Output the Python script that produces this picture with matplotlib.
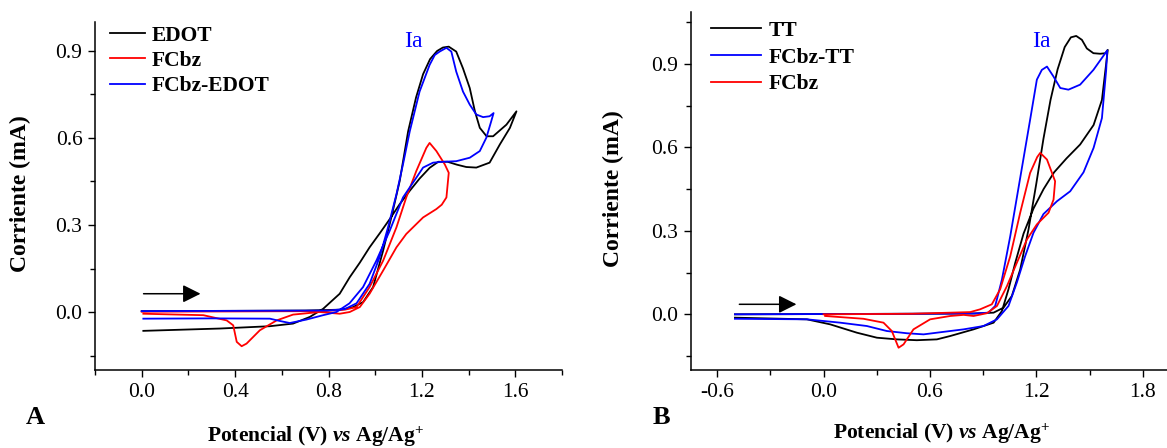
import matplotlib
matplotlib.use("Agg")
import matplotlib.pyplot as plt
from matplotlib.ticker import MultipleLocator, FormatStrFormatter

plt.rcParams['font.family'] = 'Liberation Serif'
plt.rcParams['mathtext.fontset'] = 'custom'
plt.rcParams['mathtext.rm'] = 'Liberation Serif:bold'
plt.rcParams['mathtext.bf'] = 'Liberation Serif:bold'
plt.rcParams['mathtext.it'] = 'Liberation Serif:italic:bold'
plt.rcParams['axes.unicode_minus'] = False

# ---- panel A data (V vs Ag/Ag+, mA) ----
edot_v = [0.0, 0.4, 0.7, 0.85, 0.9, 0.948, 0.991, 1.034, 1.069, 1.105, 1.141, 1.175, 1.205,
          1.235, 1.265, 1.29, 1.315, 1.347, 1.376, 1.405, 1.427, 1.448, 1.477, 1.505, 1.562, 1.605,
          1.577, 1.534, 1.49, 1.433, 1.39, 1.35, 1.31, 1.27, 1.233, 1.19, 1.148, 1.105, 1.062,
          1.02, 0.976, 0.934, 0.891, 0.848, 0.777, 0.72, 0.648, 0.549, 0.335, 0.007]
edot_i = [0.003, 0.004, 0.005, 0.008, 0.015, 0.034, 0.086, 0.212, 0.326, 0.452, 0.623, 0.74, 0.82,
          0.872, 0.9, 0.912, 0.915, 0.898, 0.84, 0.772, 0.692, 0.635, 0.606, 0.606, 0.646, 0.692,
          0.635, 0.578, 0.515, 0.498, 0.5, 0.508, 0.518, 0.518, 0.497, 0.46, 0.418, 0.372, 0.32,
          0.272, 0.223, 0.17, 0.12, 0.063, 0.011, -0.017, -0.04, -0.049, -0.057, -0.065]

fcbz_a_v = [0.0, 0.4, 0.75, 0.82, 0.87, 0.92, 0.976, 1.034, 1.091, 1.133, 1.176, 1.219, 1.233,
            1.262, 1.298, 1.315,
            1.305, 1.285, 1.262, 1.205, 1.133, 1.091, 1.034, 0.976, 0.934, 0.891, 0.848, 0.762,
            0.648, 0.578, 0.506, 0.449, 0.428, 0.407, 0.392, 0.364, 0.264, 0.007]
fcbz_a_i = [0.001, 0.002, 0.003, 0.005, 0.008, 0.017, 0.086, 0.177, 0.292, 0.395, 0.486, 0.566, 0.583,
            0.555, 0.509, 0.48,
            0.395, 0.37, 0.355, 0.326, 0.269, 0.223, 0.143, 0.063, 0.017, 0.0, -0.006, 0.0,
            -0.009, -0.029, -0.063, -0.109, -0.118, -0.103, -0.046, -0.029, -0.011, -0.006]

fcbzedot_v = [0.0, 0.4, 0.8, 0.87, 0.92, 0.976, 1.019, 1.055, 1.091, 1.119, 1.148, 1.19, 1.233,
              1.255, 1.276, 1.305, 1.326, 1.347, 1.376, 1.405, 1.433, 1.462, 1.49, 1.507,
              1.497, 1.476, 1.448, 1.405, 1.347, 1.29, 1.248, 1.205, 1.176, 1.119, 1.062, 1.005,
              0.948, 0.89, 0.834, 0.777, 0.706, 0.634, 0.592, 0.549, 0.3, 0.007]
fcbzedot_i = [0.003, 0.004, 0.005, 0.01, 0.03, 0.097, 0.189, 0.292, 0.406, 0.509, 0.623, 0.76, 0.852,
              0.886, 0.898, 0.911, 0.898, 0.829, 0.76, 0.715, 0.681, 0.672, 0.675, 0.686,
              0.658, 0.601, 0.555, 0.532, 0.52, 0.518, 0.515, 0.498, 0.463, 0.395, 0.28, 0.177,
              0.086, 0.03, 0.0, -0.011, -0.026, -0.038, -0.031, -0.023, -0.022, -0.023]

# ---- panel B data ----
tt_v = [-0.5, 0.0, 0.5, 0.85, 0.959, 1.015, 1.062, 1.109, 1.156, 1.2, 1.24, 1.28, 1.32,
        1.36, 1.395, 1.425, 1.457, 1.485, 1.522, 1.56, 1.59, 1.603,
        1.57, 1.523, 1.447, 1.37, 1.3, 1.241, 1.184, 1.128, 1.081, 1.043, 1.006, 0.959, 0.846,
        0.714, 0.639, 0.526, 0.414, 0.301, 0.188, 0.037, -0.094, -0.5]
tt_i = [0.0, 0.001, 0.002, 0.003, 0.006, 0.024, 0.066, 0.161, 0.305, 0.47, 0.63, 0.77, 0.88,
        0.96, 0.995, 1.0, 0.986, 0.955, 0.938, 0.936, 0.938, 0.95,
        0.77, 0.68, 0.61, 0.56, 0.51, 0.45, 0.38, 0.29, 0.185, 0.09, 0.012, -0.03, -0.054,
        -0.078, -0.09, -0.093, -0.09, -0.084, -0.066, -0.036, -0.018, -0.012]

fcbztt_v = [-0.5, 0.0, 0.5, 0.85, 0.93, 0.968, 1.006, 1.053, 1.109, 1.165, 1.203, 1.231, 1.26,
            1.297, 1.335, 1.381, 1.447, 1.522, 1.6,
            1.594, 1.57, 1.523, 1.466, 1.391, 1.316, 1.24, 1.184, 1.137, 1.09, 1.043, 0.978,
            0.902, 0.79, 0.714, 0.564, 0.47, 0.357, 0.244, 0.094, -0.094, -0.5]
fcbztt_i = [0.0, 0.001, 0.002, 0.003, 0.006, 0.03, 0.125, 0.281, 0.49, 0.699, 0.843, 0.878, 0.89,
            0.854, 0.813, 0.807, 0.825, 0.878, 0.948,
            0.878, 0.705, 0.598, 0.51, 0.442, 0.406, 0.36, 0.293, 0.209, 0.114, 0.03, -0.018,
            -0.042, -0.054, -0.06, -0.072, -0.068, -0.06, -0.042, -0.03, -0.018, -0.016]

fcbz_b_v = [0.0, 0.5, 0.827, 0.883, 0.949, 0.996, 1.053, 1.109, 1.165, 1.205, 1.222,
            1.26, 1.306, 1.297, 1.269, 1.203, 1.147, 1.09, 1.034, 0.978, 0.921, 0.846, 0.79,
            0.714, 0.601, 0.507, 0.451, 0.423, 0.385, 0.338, 0.225, 0.009]
fcbz_b_i = [0.0, 0.002, 0.008, 0.018, 0.036, 0.09, 0.209, 0.365, 0.508, 0.565, 0.58,
            0.556, 0.478, 0.412, 0.365, 0.323, 0.269, 0.185, 0.101, 0.03, 0.004, -0.006, -0.002,
            -0.006, -0.018, -0.054, -0.108, -0.12, -0.06, -0.03, -0.016, -0.006]

FS = 15.5
W, H = 1167, 448
fig = plt.figure(figsize=(W / 100, H / 100), dpi=100)

axA = fig.add_axes([95 / W, 78 / H, 467 / W, 348 / H])
axB = fig.add_axes([690.6 / W, 78 / H, 478.7 / W, 358 / H])


def style(ax, xlim, ylim, xmaj, ymaj):
    ax.set_xlim(*xlim)
    ax.set_ylim(*ylim)
    for s in ['top', 'right']:
        ax.spines[s].set_visible(False)
    for s in ['left', 'bottom']:
        ax.spines[s].set_linewidth(1.1)
    ax.xaxis.set_major_locator(MultipleLocator(xmaj))
    ax.xaxis.set_minor_locator(MultipleLocator(xmaj / 2))
    ax.yaxis.set_major_locator(MultipleLocator(ymaj))
    ax.yaxis.set_minor_locator(MultipleLocator(ymaj / 2))
    ax.xaxis.set_major_formatter(FormatStrFormatter('%.1f'))
    ax.yaxis.set_major_formatter(FormatStrFormatter('%.1f'))
    ax.tick_params(which='major', direction='out', length=5, width=1.0, labelsize=FS, pad=4)
    ax.tick_params(which='minor', direction='out', length=3.5, width=1.0)


lw = 1.3
axA.plot(edot_v, edot_i, color='black', lw=lw, label='EDOT')
axA.plot(fcbz_a_v, fcbz_a_i, color='#ff0000', lw=lw, label='FCbz')
axA.plot(fcbzedot_v, fcbzedot_i, color='#0000ff', lw=lw, label='FCbz-EDOT')
style(axA, (-0.2, 1.8), (-0.2, 1.0), 0.4, 0.3)

axB.plot(tt_v, tt_i, color='black', lw=lw, label='TT')
axB.plot(fcbztt_v, fcbztt_i, color='#0000ff', lw=lw, label='FCbz-TT')
axB.plot(fcbz_b_v, fcbz_b_i, color='#ff0000', lw=lw, label='FCbz')
style(axB, (-0.75, 1.95), (-0.2, 1.086), 0.6, 0.3)

axA.legend(loc='upper left', bbox_to_anchor=(0.032, 0.99), frameon=False, borderpad=0,
           borderaxespad=0, handlelength=1.65, handletextpad=0.3, labelspacing=0.25,
           prop={'weight': 'bold', 'size': FS})
axB.legend(loc='upper left', bbox_to_anchor=(0.042, 0.975), frameon=False, borderpad=0,
           borderaxespad=0, handlelength=2.35, handletextpad=0.34, labelspacing=0.3,
           prop={'weight': 'bold', 'size': FS})

axA.text(1.162, 0.932, 'Ia', color='#0000ff', fontsize=17, ha='center', va='center')
axB.text(1.227, 0.98, 'Ia', color='#0000ff', fontsize=17, ha='center', va='center')

arrow = dict(arrowstyle='-|>,head_length=0.6,head_width=0.3', color='black', lw=1.1,
             mutation_scale=18, shrinkA=0, shrinkB=0)
axA.annotate('', xy=(0.252, 0.063), xytext=(0.008, 0.063), arrowprops=arrow)
axB.annotate('', xy=(-0.153, 0.036), xytext=(-0.475, 0.036), arrowprops=arrow)

ylab = 'Corriente (mA)'
xlab = r'Potencial (V) $\mathit{vs}$ Ag/Ag$^{+}$'
fig.text(20 / W, 1 - 194 / H, ylab, rotation=90, ha='center', va='center',
         fontsize=17, fontweight='bold')
fig.text(613 / W, 1 - 189 / H, ylab, rotation=90, ha='center', va='center',
         fontsize=17, fontweight='bold')
fig.text(316 / W, 1 - 437 / H, xlab, ha='center', va='center', fontsize=FS, fontweight='bold')
fig.text(942 / W, 1 - 434 / H, xlab, ha='center', va='center', fontsize=FS, fontweight='bold')
fig.text(35 / W, 1 - 417 / H, 'A', ha='center', va='center', fontsize=19, fontweight='bold')
fig.text(661 / W, 1 - 417 / H, 'B', ha='center', va='center', fontsize=19, fontweight='bold')

fig.savefig('out.png', dpi=100)
